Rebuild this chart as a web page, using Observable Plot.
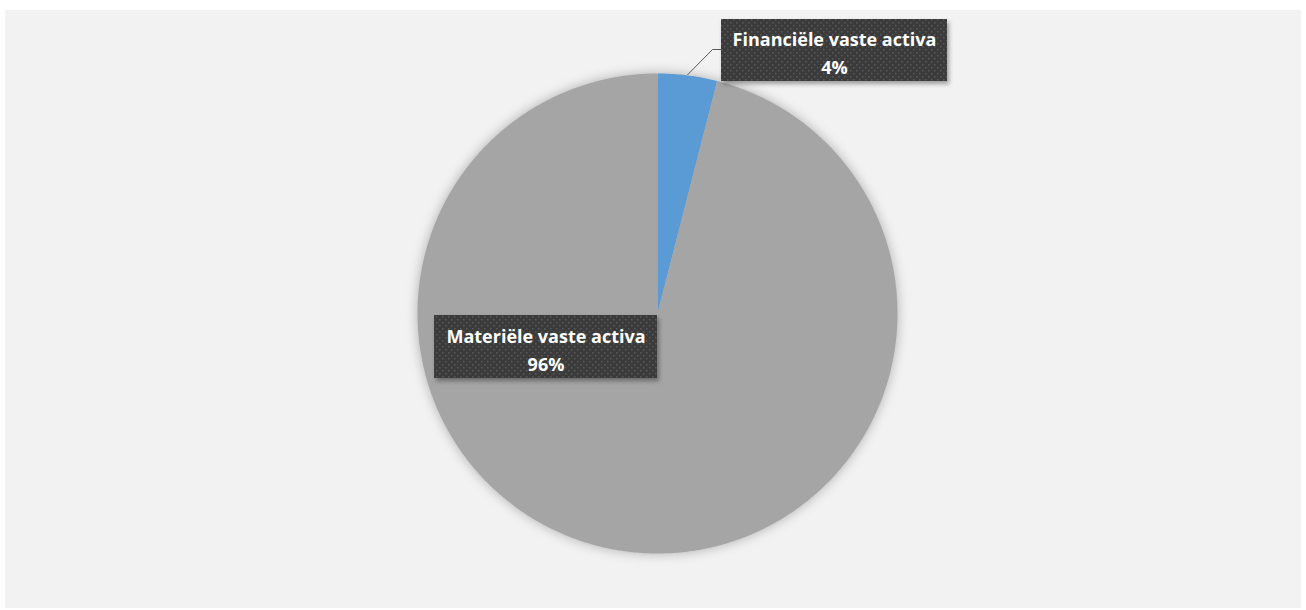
<!DOCTYPE html>
<html>
<head>
<meta charset="utf-8">
<script src="https://cdn.jsdelivr.net/npm/d3@7"></script>
<script src="https://cdn.jsdelivr.net/npm/@observablehq/plot@0.6"></script>
<style>
  html, body { margin: 0; padding: 0; background: #ffffff; }
  #wrap { position: relative; width: 1306px; height: 610px; overflow: hidden; }
  #panel { position: absolute; left: 5px; top: 10px; width: 1296px; height: 598px; background: #f2f2f2; }
  #chart { position: absolute; left: 0; top: 0; }
  #chart svg g[aria-label="line"]:first-of-type { filter: drop-shadow(0 0 6px rgba(0,0,0,0.28)); }
  #chart svg g[aria-label="rect"] { filter: drop-shadow(2px 3px 2px rgba(0,0,0,0.35)); }
</style>
</head>
<body>
<div id="wrap"><div id="panel"></div><div id="chart"></div></div>
<script>
// ---- data ----
const categories = ["Financiële vaste activa", "Materiële vaste activa"];
const shares = [4, 96];
const percentLabels = ["4%", "96%"];
const sliceColors = ["#5b9bd5", "#a5a5a5"];

// ---- layout (pixels) ----
const W = 1306, H = 610;
const cx = 657, cy = 313, R = 240;
const labelBoxes = [
  { cxp: 834, cyp: 50, w: 226, h: 62 },
  { cxp: 545.5, cyp: 346.5, w: 223, h: 63 }
];

const toX = px => (px - cx) / R;
const toY = py => (cy - py) / R;

const arcs = d3.pie().sort(null)(shares);

const slicePts = [];
arcs.forEach((a, i) => {
  const n = Math.max(4, Math.ceil((a.endAngle - a.startAngle) / 0.01));
  slicePts.push({ cat: categories[i], x: 0, y: 0 });
  for (let k = 0; k <= n; k++) {
    const t = a.startAngle + (a.endAngle - a.startAngle) * k / n;
    slicePts.push({ cat: categories[i], x: Math.sin(t), y: Math.cos(t) });
  }
  slicePts.push({ cat: categories[i], x: 0, y: 0 });
});

const boxes = labelBoxes.map((b, i) => ({
  cat: categories[i],
  x1: toX(b.cxp - b.w / 2), x2: toX(b.cxp + b.w / 2),
  y1: toY(b.cyp - b.h / 2), y2: toY(b.cyp + b.h / 2),
  tx: toX(b.cxp), ty: toY(b.cyp + 1),
  text: categories[i] + "\n" + percentLabels[i]
}));

const a0 = arcs[0];
const mid = (a0.startAngle + a0.endAngle) / 2;
const b0 = labelBoxes[0];
const leader = [
  { x: Math.sin(mid) * 1.003, y: Math.cos(mid) * 1.003 },
  { x: toX(b0.cxp - b0.w / 2 - 9), y: toY(49) },
  { x: toX(b0.cxp - b0.w / 2), y: toY(49) }
];

const plot = Plot.plot({
  width: W, height: H,
  margin: 0,
  style: { background: "transparent", overflow: "visible" },
  x: { domain: [toX(0), toX(W)], range: [0, W], axis: null },
  y: { domain: [toY(H), toY(0)], range: [H, 0], axis: null },
  color: { domain: categories, range: sliceColors },
  marks: [
    Plot.line(slicePts, { x: "x", y: "y", z: "cat", fill: "cat", stroke: "none", curve: "linear" }),
    Plot.line(leader, { x: "x", y: "y", stroke: "#595959", strokeWidth: 1 }),
    Plot.rect(boxes, { x1: "x1", x2: "x2", y1: "y1", y2: "y2", fill: "#3f3f3f" }),
    Plot.text(boxes, {
      x: "tx", y: "ty", text: "text",
      fill: "#ffffff", fontSize: 18, fontWeight: "bold",
      fontFamily: "'Open Sans', sans-serif",
      lineHeight: 1.55, lineAnchor: "middle", textAnchor: "middle"
    })
  ]
});

const ns = "http://www.w3.org/2000/svg";
const defs = document.createElementNS(ns, "defs");
const pat = document.createElementNS(ns, "pattern");
pat.setAttribute("id", "dots");
pat.setAttribute("patternUnits", "userSpaceOnUse");
pat.setAttribute("width", "6");
pat.setAttribute("height", "6");
const bg = document.createElementNS(ns, "rect");
bg.setAttribute("width", "6"); bg.setAttribute("height", "6"); bg.setAttribute("fill", "#3b3b3b");
pat.appendChild(bg);
[[1, 1], [4, 4]].forEach(([px, py]) => {
  const d = document.createElementNS(ns, "rect");
  d.setAttribute("x", px); d.setAttribute("y", py);
  d.setAttribute("width", "1.5"); d.setAttribute("height", "1.5");
  d.setAttribute("fill", "#5a5a5a");
  pat.appendChild(d);
});
defs.appendChild(pat);
plot.insertBefore(defs, plot.firstChild);
plot.querySelectorAll('g[aria-label="rect"] rect').forEach(r => r.setAttribute("fill", "url(#dots)"));

document.getElementById("chart").appendChild(plot);
</script>
</body>
</html>
